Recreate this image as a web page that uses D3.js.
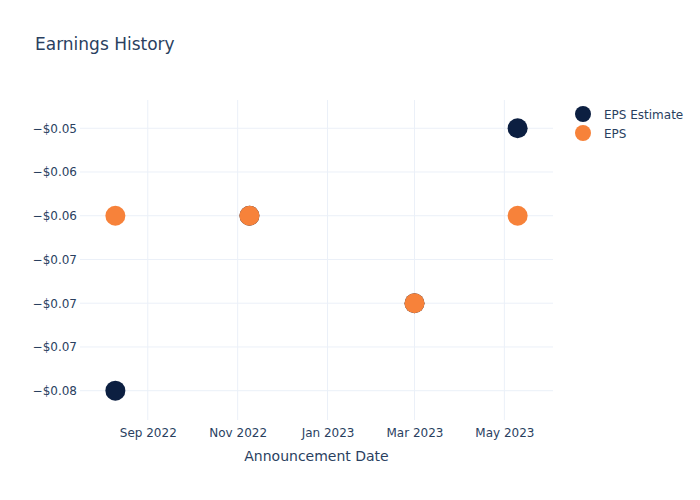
<!DOCTYPE html>
<html><head><meta charset="utf-8">
<script src="https://cdn.jsdelivr.net/npm/d3@7"></script>
<style>body{margin:0;background:#fff;} text{font-family:"DejaVu Sans",Verdana,sans-serif;}</style>
</head><body><svg id="c" width="700" height="500"></svg>
<script>
const dates = ["2022-08-10", "2022-11-09", "2023-03-01", "2023-05-10"];
const epsEstimate = [-0.08, -0.06, -0.07, -0.05];
const eps = [-0.06, -0.06, -0.07, -0.06];
const seriesNames = ["EPS Estimate", "EPS"];
const seriesColors = ["#0c1f41", "#f7823a"];
const yTickValues = [-0.05, -0.055, -0.06, -0.065, -0.07, -0.075, -0.08];
const yTickLabels = ["−$0.05", "−$0.06", "−$0.06", "−$0.07", "−$0.07", "−$0.07", "−$0.08"];
const xTickDates = ["2022-09-01", "2022-11-01", "2023-01-01", "2023-03-01", "2023-05-01"];
const xTickLabels = ["Sep 2022", "Nov 2022", "Jan 2023", "Mar 2023", "May 2023"];

const parse = d3.utcParse("%Y-%m-%d");
const svg = d3.select("#c");
const L = 80, R = 553, T = 100, B = 420;
const x = d3.scaleUtc().domain([parse("2022-07-17"), parse("2023-06-03")]).range([L, R]);
const y = d3.scaleLinear().domain([-0.08335, -0.04677]).range([B, T]);
const textColor = "#2a3f5f", grid = "#ebf0f8";

// grid
svg.append("g").selectAll("line").data(xTickDates).join("line")
  .attr("x1", d => x(parse(d))).attr("x2", d => x(parse(d)))
  .attr("y1", T).attr("y2", B).attr("stroke", grid).attr("stroke-width", 1);
svg.append("g").selectAll("line").data(yTickValues).join("line")
  .attr("x1", L).attr("x2", R)
  .attr("y1", d => y(d)).attr("y2", d => y(d)).attr("stroke", grid).attr("stroke-width", 1);

// axes
const xAxis = d3.axisBottom(x).tickValues(xTickDates.map(parse))
  .tickFormat((d, i) => xTickLabels[i]).tickSize(0).tickPadding(8);
const gx = svg.append("g").attr("transform", `translate(0,${B})`).call(xAxis);
gx.select(".domain").remove();
gx.selectAll("text").attr("fill", textColor).attr("font-size", 12).attr("font-family", "DejaVu Sans");

const yAxis = d3.axisLeft(y).tickValues(yTickValues)
  .tickFormat((d, i) => yTickLabels[i]).tickSize(0).tickPadding(3);
const gy = svg.append("g").attr("transform", `translate(${L},0)`).call(yAxis);
gy.select(".domain").remove();
gy.selectAll("text").attr("fill", textColor).attr("font-size", 12).attr("font-family", "DejaVu Sans");

// points
const series = [epsEstimate, eps];
series.forEach((vals, si) => {
  svg.append("g").selectAll("circle").data(vals).join("circle")
    .attr("cx", (d, i) => x(parse(dates[i])))
    .attr("cy", d => y(d))
    .attr("r", 10)
    .attr("fill", seriesColors[si]);
});

// title
svg.append("text").attr("x", 35).attr("y", 50).attr("fill", textColor)
  .attr("font-size", 17).text("Earnings History");
svg.append("text").attr("x", (L + R) / 2).attr("y", 461).attr("text-anchor", "middle")
  .attr("fill", textColor).attr("font-size", 14).text("Announcement Date");

// legend
const lg = svg.append("g");
seriesNames.forEach((n, i) => {
  lg.append("circle").attr("cx", 583).attr("cy", 114 + i * 19).attr("r", 8).attr("fill", seriesColors[i]);
  lg.append("text").attr("x", 604).attr("y", 114 + i * 19 + 4.5).attr("fill", textColor)
    .attr("font-size", 12).text(n);
});
</script></body></html>
